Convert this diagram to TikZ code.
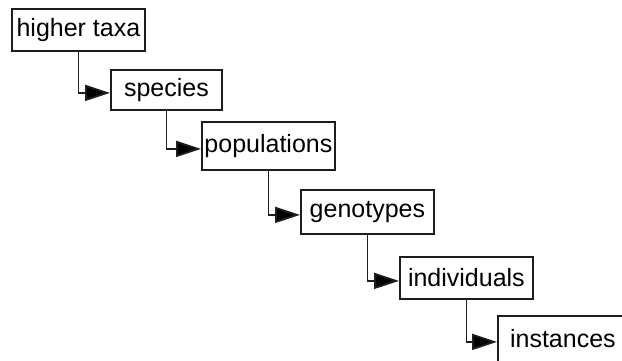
\documentclass[tikz,border=0pt]{standalone}
\usepackage{fontspec}
\setmainfont{Liberation Sans}
\usepackage{xcolor}
\definecolor{edge1}{RGB}{30,30,30}
\usepackage{tikz}
\usetikzlibrary{positioning, arrows.meta, calc}
\tikzstyle{box} = [
    rectangle, text centered,
    draw=edge1,
    line width=1.8pt,
    inner sep=0pt,
    anchor=north west,
    font=\fontsize{25}{30}\selectfont,
]
\tikzstyle{arrow} = [line width=1.8pt, draw=edge1, -{Triangle[length=25pt,width=16pt,fill=black]}]

\begin{document}
\begin{tikzpicture}[x=1pt, y=-1pt]
    \path[use as bounding box, clip] (0,0) rectangle (622,360);

    % boxes
    \foreach \word/\x/\y/\w/\h [count=\i] in {higher taxa/11/8/133/42,
                                               species/110/69/111/40,
                                               populations/201/121/133/48,
                                               genotypes/300/189/133/44,
                                               individuals/399/256/133/42,
                                               instances/497/315/130/46} {
        \node (box\i) at (\x, \y) [box, minimum width=\w pt, minimum height=\h pt] {\word};
    }

    % arrows
    \foreach \i [evaluate=\i as \j using int(\i+1)] in {1,...,5} {
        \draw [arrow] (box\i.south) |- ([yshift=-3pt]box\j.west);
    }

\end{tikzpicture}
\end{document}
